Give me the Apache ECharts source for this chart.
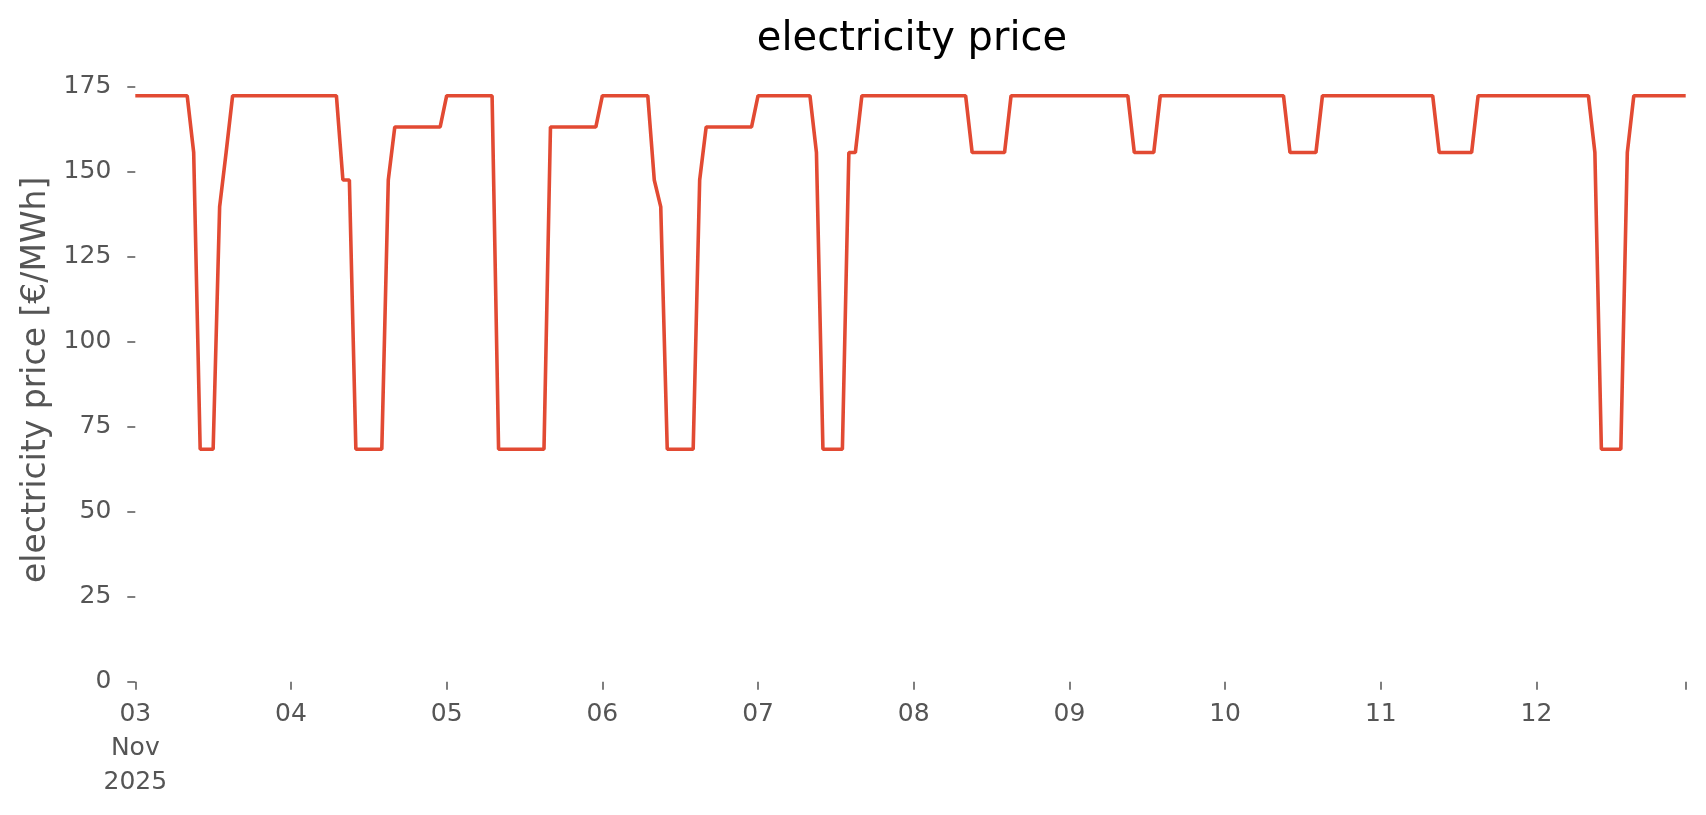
<!DOCTYPE html>
<html>
<head>
<meta charset="utf-8">
<script src="https://cdn.jsdelivr.net/npm/echarts@6/dist/echarts.min.js"></script>
<style>
  html, body { margin: 0; padding: 0; background: #fff; }
  #myChart { width: 1706px; height: 815px; }
</style>
</head>
<body>
<div id="myChart"></div>
<script>
// hourly prices, 03 Nov 2025 00:00 .. 12 Nov 2025 23:00 (UTC)
const startTime = Date.UTC(2025, 10, 3);
const hourMs = 3600 * 1000;
const prices = [
  // 03
  172.4, 172.4, 172.4, 172.4, 172.4, 172.4, 172.4, 172.4, 172.4, 155.7, 68.4, 68.4,
  68.4, 139.7, 155.7, 172.4, 172.4, 172.4, 172.4, 172.4, 172.4, 172.4, 172.4, 172.4,
  // 04
  172.4, 172.4, 172.4, 172.4, 172.4, 172.4, 172.4, 172.4, 147.6, 147.6, 68.4, 68.4,
  68.4, 68.4, 68.4, 147.6, 163.2, 163.2, 163.2, 163.2, 163.2, 163.2, 163.2, 163.2,
  // 05
  172.4, 172.4, 172.4, 172.4, 172.4, 172.4, 172.4, 172.4, 68.4, 68.4, 68.4, 68.4,
  68.4, 68.4, 68.4, 68.4, 163.2, 163.2, 163.2, 163.2, 163.2, 163.2, 163.2, 163.2,
  // 06
  172.4, 172.4, 172.4, 172.4, 172.4, 172.4, 172.4, 172.4, 147.6, 139.7, 68.4, 68.4,
  68.4, 68.4, 68.4, 147.6, 163.2, 163.2, 163.2, 163.2, 163.2, 163.2, 163.2, 163.2,
  // 07
  172.4, 172.4, 172.4, 172.4, 172.4, 172.4, 172.4, 172.4, 172.4, 155.7, 68.4, 68.4,
  68.4, 68.4, 155.7, 155.7, 172.4, 172.4, 172.4, 172.4, 172.4, 172.4, 172.4, 172.4,
  // 08
  172.4, 172.4, 172.4, 172.4, 172.4, 172.4, 172.4, 172.4, 172.4, 155.7, 155.7, 155.7,
  155.7, 155.7, 155.7, 172.4, 172.4, 172.4, 172.4, 172.4, 172.4, 172.4, 172.4, 172.4,
  // 09
  172.4, 172.4, 172.4, 172.4, 172.4, 172.4, 172.4, 172.4, 172.4, 172.4, 155.7, 155.7,
  155.7, 155.7, 172.4, 172.4, 172.4, 172.4, 172.4, 172.4, 172.4, 172.4, 172.4, 172.4,
  // 10
  172.4, 172.4, 172.4, 172.4, 172.4, 172.4, 172.4, 172.4, 172.4, 172.4, 155.7, 155.7,
  155.7, 155.7, 155.7, 172.4, 172.4, 172.4, 172.4, 172.4, 172.4, 172.4, 172.4, 172.4,
  // 11
  172.4, 172.4, 172.4, 172.4, 172.4, 172.4, 172.4, 172.4, 172.4, 155.7, 155.7, 155.7,
  155.7, 155.7, 155.7, 172.4, 172.4, 172.4, 172.4, 172.4, 172.4, 172.4, 172.4, 172.4,
  // 12
  172.4, 172.4, 172.4, 172.4, 172.4, 172.4, 172.4, 172.4, 172.4, 155.7, 68.4, 68.4,
  68.4, 68.4, 155.7, 172.4, 172.4, 172.4, 172.4, 172.4, 172.4, 172.4, 172.4, 172.4
];
const dayTicks = [3, 4, 5, 6, 7, 8, 9, 10, 11, 12];
const yTicks = [0, 25, 50, 75, 100, 125, 150, 175];

const seriesData = prices.map((p, i) => [startTime + i * hourMs, p]);
const endTime = startTime + (prices.length - 1) * hourMs;
const dayValues = dayTicks.map(d => Date.UTC(2025, 10, d));

const font = 'DejaVu Sans';
const grey = '#555555';

const myChart = echarts.init(document.getElementById('myChart'));
myChart.setOption({
  animation: false,
  backgroundColor: '#ffffff',
  title: {
    text: 'electricity price',
    left: 907,
    top: 15,
    textAlign: 'center',
    textStyle: { fontFamily: font, fontSize: 40, fontWeight: 'normal', color: '#000' }
  },
  grid: { left: 135.3, right: 20.3, top: 78, bottom: 133.3, containLabel: false },
  xAxis: {
    // timestamps on a linear axis, labelled as days
    type: 'value',
    min: startTime,
    max: endTime,
    axisLine: { show: false },
    splitLine: { show: false },
    axisTick: {
      show: true, length: 8, customValues: dayValues.concat([endTime]),
      lineStyle: { color: grey, width: 1.5 }
    },
    axisLabel: {
      customValues: dayValues,
      margin: 16,
      color: grey, fontFamily: font, fontSize: 25, lineHeight: 34, align: 'center',
      formatter: v => {
        const d = new Date(v);
        const dd = String(d.getUTCDate()).padStart(2, '0');
        return v === startTime ? dd + '\nNov\n2025' : dd;
      }
    }
  },
  yAxis: {
    type: 'value',
    min: 0,
    max: 177.6,
    name: 'electricity price [€/MWh]',
    nameLocation: 'middle',
    nameGap: 81,
    nameTextStyle: { fontFamily: font, fontSize: 33, color: grey },
    axisLine: { show: false },
    splitLine: { show: false },
    axisTick: { show: true, length: 8, customValues: yTicks, lineStyle: { color: grey, width: 1.5 } },
    axisLabel: { customValues: yTicks, margin: 24, color: grey, fontFamily: font, fontSize: 25 }
  },
  series: [{
    type: 'line',
    data: seriesData,
    showSymbol: false,
    lineStyle: { color: '#E24A33', width: 3.6 },
    itemStyle: { color: '#E24A33' }
  }]
});
</script>
</body>
</html>
